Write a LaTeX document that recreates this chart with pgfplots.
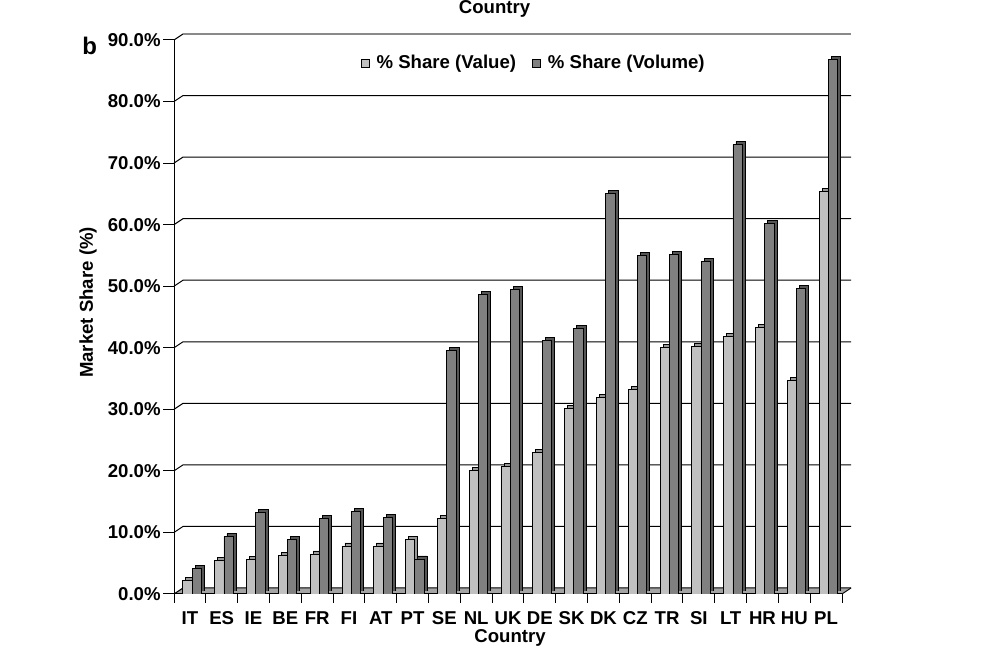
\documentclass[border=0pt]{standalone}
\usepackage{fontspec}
\setmainfont{Liberation Sans}
\usepackage{pgfplots}
\pgfplotsset{compat=1.18}
\usepackage{pgfplotstable}
\definecolor{valfront}{HTML}{C0C0C0}
\definecolor{volfront}{HTML}{808080}
\definecolor{valside}{HTML}{989898}
\definecolor{volside}{HTML}{555555}
\definecolor{floorgray}{HTML}{A4A4A4}
\definecolor{topline}{HTML}{8A8A8A}

\pgfplotstableread{
idx country value volume
0  IT 2.2  4.2
1  ES 5.4  9.3
2  IE 5.6  13.2
3  BE 6.3  8.8
4  FR 6.5  12.3
5  FI 7.8  13.4
6  AT 7.8  12.4
7  PT 8.8  5.7
8  SE 12.3 39.5
9  NL 20.0 48.6
10 UK 20.7 49.5
11 DE 23.0 41.2
12 SK 30.1 43.2
13 DK 32.0 65.1
14 CZ 33.2 55.0
15 TR 40.1 55.1
16 SI 40.2 54.0
17 LT 41.9 73.0
18 HR 43.3 60.2
19 HU 34.7 49.7
20 PL 65.4 86.8
}\datatable

\pgfplotsset{
  sharebase/.style={
    anchor=south west,
    scale only axis,
    width=334pt, height=277pt,
    xmin=-0.5, xmax=20.5,
    ymin=0, ymax=90,
    ybar, bar width=0.292,
  },
  sqlegend/.style={legend image code/.code={\draw[#1,draw=black,line width=0.4pt] (0pt,-2pt) rectangle (4pt,2pt); \path (5.5pt,0pt);}},
}

\begin{document}
\begin{tikzpicture}[x=0.5pt,y=0.5pt,font=\fontsize{9.3}{11}\selectfont\bfseries]
\useasboundingbox (0,0) rectangle (994,667);
\clip (0,0) rectangle (994,667);
% floor
\fill[floorgray] (174,73) -- (842,73) -- (851,79) -- (183,79) -- cycle;
\draw[line width=0.45pt] (842,73) -- (851,79);
% back-wall grid lines
\foreach \k in {0,...,8}{
  \draw[line width=0.5pt] (174,{73+61.556*\k}) -- ++(9,6) -- (851,{79+61.556*\k});
}
\draw[line width=0.5pt] (174,627) -- (183,633);
\draw[topline, line width=1pt] (183,633) -- (851,633);

% depth (side/top faces) of the bars
\begin{axis}[sharebase, at={(88.5pt,38pt)}, hide axis]
\addplot[fill=valside, draw=black, line width=0.4pt, bar shift=-0.075] table[x=idx,y=value]{\datatable};
\addplot[fill=volside, draw=black, line width=0.4pt, bar shift=0.217] table[x=idx,y=volume]{\datatable};
\end{axis}

% front faces, axes, ticks, legend
\begin{axis}[sharebase, at={(87pt,36.5pt)},
  axis x line*=bottom, axis y line*=left,
  axis line style={line width=0.5pt},
  tick align=outside,
  xtick={0,...,20},
  xticklabels={IT,ES,IE,BE,FR,FI,AT,PT,SE,NL,UK,DE,SK,DK,CZ,TR,SI,LT,HR,HU,PL},
  minor xtick={-0.5,0.5,...,20.5},
  major x tick style={draw=none},
  minor x tick style={line width=0.5pt, black},
  minor tick length=4.5pt,
  major tick length=5.5pt,
  ytick={0,10,...,90},
  major y tick style={line width=0.5pt, black},
  yticklabel={\pgfmathprintnumber[fixed,fixed zerofill,precision=1]{\tick}\%},
  /pgf/number format/assume math mode=true,
  yticklabel style={inner sep=0pt, xshift=-1pt},
  xticklabel style={anchor=base, yshift=-9.8pt},
  legend columns=2,
  legend style={at={(0.54,0.958)}, anchor=center, draw=none, fill=none,
    font=\fontsize{9.3}{11}\selectfont\bfseries,
    /tikz/every even column/.append style={column sep=6pt}},
]
\addplot[fill=valfront, draw=black, line width=0.4pt, bar shift=-0.075, sqlegend] table[x=idx,y=value]{\datatable};
\addplot[fill=volfront, draw=black, line width=0.4pt, bar shift=0.217, sqlegend] table[x=idx,y=volume]{\datatable};
\legend{\% Share (Value), \% Share (Volume)}
\end{axis}

% texts
\node[anchor=base west, inner sep=0pt, font=\fontsize{12}{14}\selectfont\bfseries] at (82,612) {b};
\node[rotate=90, anchor=center] at (88,364.5) {Market Share (\%)};
\node[anchor=base] at (510,24) {Country};
\node[anchor=base] at (494.5,653) {Country};
\end{tikzpicture}
\end{document}
